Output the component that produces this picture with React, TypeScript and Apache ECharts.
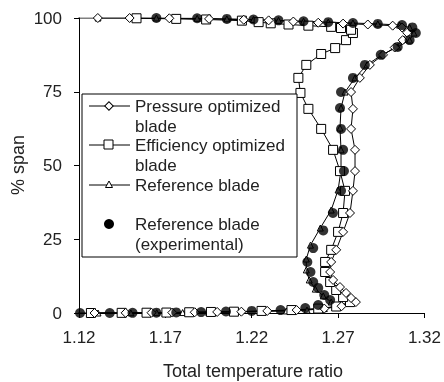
import React, { useEffect, useRef } from "react";
import * as echarts from "echarts";

// Total temperature ratio (x) vs % span (y)
const xTicks = [1.12, 1.17, 1.22, 1.27, 1.32];

const pressureT = [1.129, 1.147, 1.162, 1.174, 1.187, 1.2, 1.214, 1.229, 1.246, 1.262, 1.272, 1.2803, 1.2775, 1.2746, 1.2711, 1.2671, 1.2654, 1.266, 1.2689, 1.2729, 1.2769, 1.2786, 1.2798, 1.2798, 1.2775, 1.2786, 1.2775, 1.2826, 1.2884, 1.296, 1.3028, 1.3074, 1.31, 1.307, 1.3016, 1.2872, 1.2729, 1.2585, 1.2441, 1.2298, 1.2154, 1.1953, 1.1723, 1.1493, 1.1309];
const pressureS = [0, 0.05, 0.1, 0.15, 0.25, 0.35, 0.45, 0.7, 1.0, 1.5, 2.3, 3.7, 5.1, 6.8, 8.8, 11.2, 13.9, 17.3, 21.4, 27.5, 33.9, 41.4, 48.1, 55.3, 62.4, 69.2, 74.9, 79.7, 84.1, 87.5, 90, 92.5, 95, 96.8, 97.4, 97.8, 98.1, 98.4, 98.8, 99.2, 99.4, 99.7, 99.9, 100, 100];

const efficiencyT = [1.1269, 1.1447, 1.1591, 1.1706, 1.1838, 1.1964, 1.2097, 1.2257, 1.243, 1.2585, 1.2689, 1.2769, 1.2729, 1.2689, 1.2654, 1.2625, 1.2625, 1.266, 1.27, 1.2729, 1.274, 1.2711, 1.2671, 1.2602, 1.2528, 1.2482, 1.247, 1.2516, 1.2602, 1.2683, 1.2746, 1.2786, 1.2775, 1.2717, 1.266, 1.2528, 1.2413, 1.231, 1.224, 1.2143, 1.1936, 1.1763, 1.1533];
const efficiencyS = [0, 0.05, 0.1, 0.15, 0.25, 0.35, 0.45, 0.7, 1.0, 1.5, 2.2, 3.7, 5.4, 7.8, 10.5, 13.9, 17.3, 21.4, 27.5, 33.9, 41.4, 48.1, 55.3, 62.4, 69.2, 74.6, 79.7, 84.1, 87.8, 89.8, 92.5, 94.9, 96, 96.6, 97, 97.4, 97.8, 98.2, 98.6, 99.1, 99.5, 99.7, 99.9];

const referenceT = [1.11, 1.131, 1.15, 1.165, 1.18, 1.195, 1.21, 1.225, 1.24, 1.252, 1.262, 1.2689, 1.266, 1.2614, 1.2568, 1.2533, 1.2516, 1.2516, 1.254, 1.2597, 1.266, 1.27, 1.2717, 1.2717, 1.2711, 1.2717, 1.274, 1.2798, 1.2867, 1.2953, 1.3045, 1.3114, 1.3139, 1.3114, 1.3056, 1.293, 1.2786, 1.2643, 1.25, 1.2355, 1.221, 1.2056, 1.1884, 1.1648, 1.131, 1.11];
const referenceS = [0, 0, 0.05, 0.1, 0.15, 0.25, 0.35, 0.5, 0.7, 1.0, 1.5, 2.4, 3.7, 5.8, 8.1, 11.2, 14.6, 18.3, 23, 28.8, 34.9, 41.7, 48.5, 55.3, 62.7, 69.5, 74.9, 79.7, 84.1, 87.5, 90.2, 92.5, 94.9, 96.8, 97.6, 98.0, 98.3, 98.6, 98.9, 99.2, 99.5, 99.7, 99.9, 100, 100, 100];

const expT = [1.1206, 1.1378, 1.151, 1.1648, 1.1763, 1.1907, 1.2051, 1.22, 1.2367, 1.251, 1.2585, 1.2654, 1.262, 1.2585, 1.2556, 1.254, 1.2522, 1.2556, 1.2614, 1.267, 1.2717, 1.2734, 1.2729, 1.2717, 1.2711, 1.2717, 1.2786, 1.2855, 1.2947, 1.3045, 1.3114, 1.315, 1.313, 1.307, 1.293, 1.2786, 1.2643, 1.25, 1.2355, 1.221, 1.2056, 1.1884, 1.1648];
const expS = [0, 0, 0.05, 0.1, 0.2, 0.3, 0.5, 0.7, 1.0, 1.7, 2.7, 4.4, 6.1, 8.5, 10.5, 13.9, 17.3, 22, 28, 33.9, 41.4, 48.1, 55.3, 62.4, 69.5, 74.9, 79.7, 84.1, 87.5, 90.2, 92.5, 94.9, 96.8, 97.6, 98.0, 98.3, 98.6, 98.9, 99.2, 99.5, 99.7, 99.9, 100];

const legendNames = ["Pressure optimized", "blade", "Efficiency optimized", "blade", "Reference blade", "Reference blade", "(experimental)"];

const FONT = "Liberation Sans, Arial, sans-serif";

function zip(a: number[], b: number[]) {
  return a.map((v, i) => [v, b[i]]);
}

export default function App() {
  const ref = useRef<HTMLDivElement>(null);
  useEffect(() => {
    if (!ref.current) return;
    const chart = echarts.init(ref.current, null, { renderer: "svg" });
    const lineSeries = (name: string, t: number[], s: number[], symbol: string, size: number) => ({
      name,
      type: "line",
      data: zip(t, s),
      symbol,
      symbolSize: size,
      showAllSymbol: true,
      lineStyle: { color: "#000", width: 1 },
      itemStyle: { color: "#fff", borderColor: "#000", borderWidth: 1 },
      z: 3,
    });
    const txt = (text: string, x: number, y: number) => ({
      type: "text",
      x,
      y,
      style: { text, fontSize: 17, fontFamily: FONT, fill: "#222", textVerticalAlign: "middle" },
      z: 101,
    });
    const legendLine = (y: number) => ({
      type: "line",
      shape: { x1: 89, y1: y, x2: 130, y2: y },
      style: { stroke: "#000", lineWidth: 1 },
      z: 101,
    });
    chart.setOption({
      animation: false,
      grid: { left: 79, top: 18, width: 348, height: 295, containLabel: false },
      xAxis: {
        type: "value",
        min: 1.12,
        max: 1.32,
        axisLine: { show: true, lineStyle: { color: "#000", width: 1 } },
        axisTick: { show: true, length: 5, inside: false, lineStyle: { color: "#000" }, customValues: xTicks },
        axisLabel: {
          customValues: xTicks,
          fontSize: 17,
          fontFamily: FONT,
          color: "#222",
          margin: 16,
          formatter: (v: number) => v.toFixed(2),
        },
        splitLine: { show: false },
      },
      yAxis: {
        type: "value",
        min: 0,
        max: 100,
        interval: 25,
        axisLine: { show: true, lineStyle: { color: "#000", width: 1 } },
        axisTick: { show: true, length: 5, inside: false, lineStyle: { color: "#000" } },
        axisLabel: { fontSize: 17, fontFamily: FONT, color: "#222", margin: 17 },
        splitLine: { show: false },
      },
      series: [
        lineSeries("Reference blade", referenceT, referenceS, "triangle", 6),
        lineSeries("Efficiency optimized blade", efficiencyT, efficiencyS, "rect", 9),
        lineSeries("Pressure optimized blade", pressureT, pressureS, "diamond", 9),
        {
          name: "Reference blade (experimental)",
          type: "scatter",
          data: zip(expT, expS),
          symbol: "circle",
          symbolSize: 10,
          itemStyle: { color: "#000" },
          z: 4,
        },
      ],
      graphic: [
        {
          type: "text",
          x: 253,
          y: 371,
          style: { text: "Total temperature ratio", fontSize: 18, fontFamily: FONT, fill: "#222", textAlign: "center", textVerticalAlign: "middle" },
        },
        {
          type: "text",
          x: 18,
          y: 165,
          rotation: Math.PI / 2,
          style: { text: "% span", fontSize: 18, fontFamily: FONT, fill: "#222", textAlign: "center", textVerticalAlign: "middle" },
        },
        {
          type: "rect",
          shape: { x: 82, y: 94, width: 215, height: 163 },
          style: { fill: "#fff", stroke: "#000", lineWidth: 1 },
          z: 100,
        },
        legendLine(106),
        { type: "rect", shape: { x: 106, y: 103, width: 6, height: 6 }, rotation: Math.PI / 4, originX: 109, originY: 106, style: { fill: "#fff", stroke: "#000", lineWidth: 1 }, z: 102 },
        txt(legendNames[0], 135, 106),
        txt(legendNames[1], 135, 126),
        legendLine(145),
        { type: "rect", shape: { x: 104, y: 140, width: 9, height: 9 }, style: { fill: "#fff", stroke: "#000", lineWidth: 1 }, z: 102 },
        txt(legendNames[2], 135, 145),
        txt(legendNames[3], 135, 165),
        legendLine(185),
        { type: "polygon", shape: { points: [[109, 181], [112.5, 187.5], [105.5, 187.5]] }, style: { fill: "#fff", stroke: "#000", lineWidth: 1 }, z: 102 },
        txt(legendNames[4], 135, 185),
        { type: "circle", shape: { cx: 109, cy: 224, r: 5 }, style: { fill: "#000" }, z: 102 },
        txt(legendNames[5], 135, 224),
        txt(legendNames[6], 135, 244),
      ],
    });
    return () => chart.dispose();
  }, []);
  return <div ref={ref} style={{ position: "fixed", left: 0, top: 0, width: 444, height: 382 }} />;
}
